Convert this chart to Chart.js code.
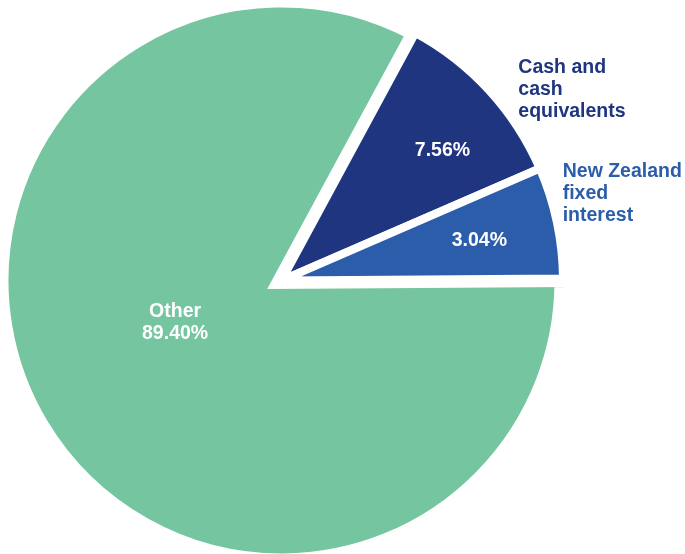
<!DOCTYPE html>
<html>
<head>
<meta charset="utf-8">
<script src="https://cdn.jsdelivr.net/npm/chart.js@4.4.1/dist/chart.umd.min.js"></script>
<style>
  html, body { margin: 0; padding: 0; background: #fff; }
  #pie { display: block; }
</style>
</head>
<body>
<canvas id="pie" width="685" height="554"></canvas>
<script>
// slices as drawn - share of the circle
const categories = ['Other', 'Cash and cash equivalents', 'New Zealand fixed interest'];
const sliceShares = [83.0, 10.6, 6.4];
// percentages printed on the slices
const valueLabels = ['89.40%', '7.56%', '3.04%'];
// names printed beside the two small slices (wrapped like the original)
const outsideNames = [null, ['Cash and', 'cash', 'equivalents'], ['New Zealand', 'fixed', 'interest']];

const sliceColors = ['#74c5a0', '#1f3580', '#2b5daa'];

// where the white value text sits: fraction of radius + turn from mid angle (deg)
const insideSpots = [
  { r: 0.406, turn: 9.6 },
  { r: 0.734, turn: 3.7 },
  { r: 0.717, turn: 0.6 }
];
// top-left baseline of the outside names, relative to the pie centre
const outsideSpots = [null, { dx: 236.8, dy: -207.5 }, { dx: 281.2, dy: -103.5 }];

const FONT = 'bold 19.5px "Liberation Sans", Arial, sans-serif';
const LINE = 22;

const sliceText = {
  id: 'sliceText',
  afterDatasetsDraw(chart) {
    const ctx = chart.ctx;
    const arcs = chart.getDatasetMeta(0).data;
    ctx.save();
    ctx.font = FONT;

    // labels inside the slices
    ctx.textAlign = 'center';
    ctx.textBaseline = 'middle';
    ctx.fillStyle = '#fff';
    arcs.forEach((arc, i) => {
      const p = arc.getProps(['x', 'y', 'startAngle', 'endAngle', 'outerRadius'], true);
      const a = (p.startAngle + p.endAngle) / 2 + insideSpots[i].turn * Math.PI / 180;
      const r = p.outerRadius * insideSpots[i].r;
      const x = p.x + Math.cos(a) * r;
      const y = p.y + Math.sin(a) * r;
      if (outsideNames[i]) {
        ctx.fillText(valueLabels[i], x, y);
      } else {
        ctx.fillText(categories[i], x, y - LINE / 2);
        ctx.fillText(valueLabels[i], x, y + LINE / 2);
      }
    });

    // names beside the small slices
    ctx.textAlign = 'left';
    ctx.textBaseline = 'alphabetic';
    arcs.forEach((arc, i) => {
      if (!outsideNames[i]) return;
      const p = arc.getProps(['x', 'y'], true);
      ctx.fillStyle = sliceColors[i];
      outsideNames[i].forEach((line, k) => {
        ctx.fillText(line, p.x + outsideSpots[i].dx, p.y + outsideSpots[i].dy + k * LINE);
      });
    });
    ctx.restore();
  }
};

const data = {
  labels: categories,
  datasets: [{
    data: sliceShares,
    backgroundColor: sliceColors,
    borderColor: '#fff',
    borderWidth: [17, 8, 8],
    borderJoinStyle: ['miter', 'bevel', 'bevel']
  }]
};

const config = {
  type: 'pie',
  data,
  options: {
    responsive: false,
    animation: false,
    events: [],
    rotation: 89.6,
    radius: 281.5,
    layout: { padding: { left: 0, right: 122, top: 7, bottom: 0 } },
    plugins: {
      legend: { display: false },
      tooltip: { enabled: false }
    }
  },
  plugins: [sliceText]
};

const pieChart = new Chart(document.getElementById('pie'), config);
</script>
</body>
</html>
